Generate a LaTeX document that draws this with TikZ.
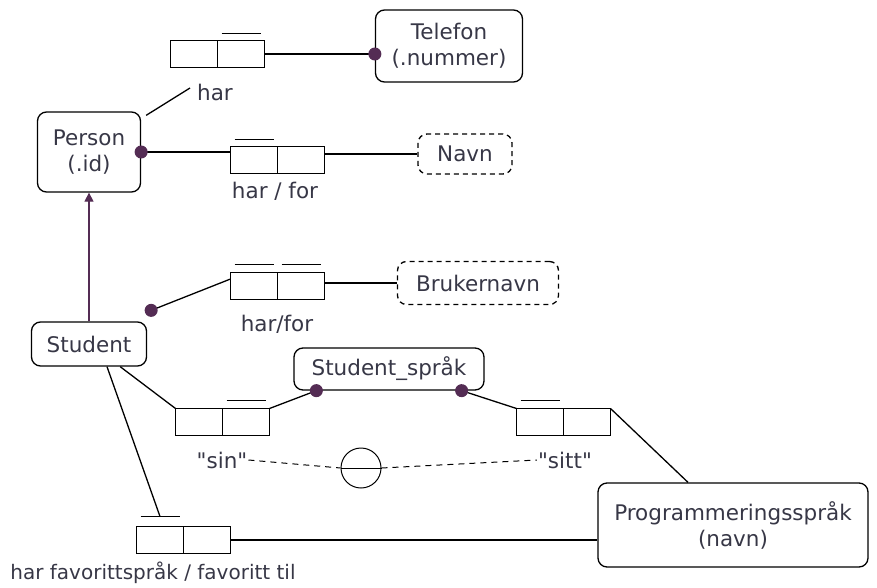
\documentclass[tikz,border=0pt]{standalone}
\usepackage{fontspec}
\setmainfont{DejaVu Sans}
\usetikzlibrary{arrows.meta,positioning}
\definecolor{ormpurple}{RGB}{84,44,84}
\definecolor{ormtext}{RGB}{55,55,70}

\begin{document}
\begin{tikzpicture}[x=1pt, y=-1pt,
  entity/.style={rectangle, draw, rounded corners=9pt, line width=1.3pt, align=center, text=ormtext, font=\fontsize{21.5}{26}\selectfont, inner sep=0pt},
  valuetype/.style={entity, dash pattern=on 5pt off 4pt},
  role/.style={rectangle, draw, line width=1.3pt, minimum width=47pt, minimum height=27pt, inner sep=0pt, outer sep=0pt},
  ubar/.style={line width=1.3pt},
  lbl/.style={text=ormtext, font=\fontsize{21.5}{26}\selectfont, inner sep=1pt},
  conn/.style={line width=1.3pt},
  dotend/.style={-{Circle[length=13pt, ormpurple]}, shorten >=-6.5pt},
  dotstart/.style={{Circle[length=13pt, ormpurple]}-, shorten <=-6.5pt}]

\useasboundingbox (0,0) rectangle (877,588);

\node[entity, minimum width=147pt, minimum height=72pt] (telefon) at (449,46) {Telefon\\(.nummer)};

\node[entity, minimum width=103pt, minimum height=80pt] (person) at (89,152) {Person\\(.id)};

\node[valuetype, minimum width=94pt, minimum height=40pt] (navn) at (465,154) {Navn};

\node[entity, minimum width=115pt, minimum height=44pt] (student) at (89,344) {Student};

\node[valuetype, minimum width=161pt, minimum height=43pt] (brukernavn) at (478,283) {Brukernavn};

\node[entity, minimum width=190pt, minimum height=42pt] (studsprak) at (389,369) {Student\_språk};

\node[entity, minimum width=270pt, minimum height=84pt] (prog) at (733,525) {Programmeringsspråk\\(navn)};

\node[role] (harA) at (194,54) {};
\node[role, right=0pt of harA] (harB) {};

\node[role] (harforA) at (254,160) {};
\node[role, right=0pt of harforA] (harforB) {};

\node[role] (brukA) at (254,286) {};
\node[role, right=0pt of brukA] (brukB) {};

\node[role] (sinA) at (199,422) {};
\node[role, right=0pt of sinA] (sinB) {};

\node[role] (sittA) at (540,422) {};
\node[role, right=0pt of sittA] (sittB) {};

\node[role] (favA) at (160,540) {};
\node[role, right=0pt of favA] (favB) {};

\draw[ubar] ([xshift=4pt, yshift=7pt]harB.north west) -- ([xshift=-4pt, yshift=7pt]harB.north east);
\draw[ubar] ([xshift=4pt, yshift=7pt]harforA.north west) -- ([xshift=-4pt, yshift=7pt]harforA.north east);
\draw[ubar] ([xshift=4pt, yshift=8pt]brukA.north west) -- ([xshift=-4pt, yshift=8pt]brukA.north east);
\draw[ubar] ([xshift=4pt, yshift=8pt]brukB.north west) -- ([xshift=-4pt, yshift=8pt]brukB.north east);
\draw[ubar] ([xshift=4pt, yshift=8pt]sinB.north west) -- ([xshift=-4pt, yshift=8pt]sinB.north east);
\draw[ubar] ([xshift=4pt, yshift=8pt]sittA.north west) -- ([xshift=-4pt, yshift=8pt]sittA.north east);
\draw[ubar] ([xshift=4pt, yshift=10pt]favA.north west) -- ([xshift=-4pt, yshift=10pt]favA.north east);

\node[lbl] (harlbl) at (215,92) {har};
\node[lbl] (harforlbl) at (275,191) {har / for};
\node[lbl] (bruklbl) at (277,324) {har/for};
\node[lbl] (sinlbl) at (222,460) {\textquotedbl sin\textquotedbl};
\node[lbl] (sittlbl) at (565,460) {\textquotedbl sitt\textquotedbl};
\node[lbl, font=\fontsize{20}{24}\selectfont] (favlbl) at (153,573) {har favorittspråk / favoritt til};

\node[circle, draw, line width=1pt, minimum size=40pt, inner sep=0pt] (excl) at (361,468) {};
\draw[line width=1pt] (excl.west) -- (excl.east);

\coordinate (harend) at (190,88);

\draw[conn] ([xshift=5pt, yshift=-4pt]person.north east) -- (harend);

\draw[conn, dotend] (harB.east) -- (harB.east -| telefon.west);

\draw[conn, dotstart] (person.east) -- (person.east -| harforA.west);

\draw[conn] (navn.west -| harforB.east) -- (navn.west);

\draw[conn, -{Triangle[length=9pt, width=9pt]}, ormpurple] (student.north) -- (person.south);

\draw[conn, dotstart] ([xshift=4pt, yshift=11pt]student.north east) -- ([yshift=7pt]brukA.west);

\draw[conn] (brukernavn.west -| brukB.east) -- (brukernavn.west);

\draw[conn] ([xshift=-27pt]student.south east) -- (sinA.north west);

\draw[conn, dotend] (sinB.north east) -- ([xshift=23pt]studsprak.south west);

\draw[conn, dotstart] ([xshift=-23pt]studsprak.south east) -- (sittA.north west);

\draw[conn] (sittB.north east) -- ([xshift=-45pt]prog.north);

\draw[conn] ([xshift=18pt]student.south) -- ([yshift=10pt]favA.north);

\draw[conn] (favB.east) -- (favB.east -| prog.west);

\draw[line width=1pt, dash pattern=on 6pt off 5pt] (sinlbl.east) -- (excl.west);

\draw[line width=1pt, dash pattern=on 6pt off 5pt] (excl.east) -- (sittlbl.west);

\end{tikzpicture}
\end{document}
